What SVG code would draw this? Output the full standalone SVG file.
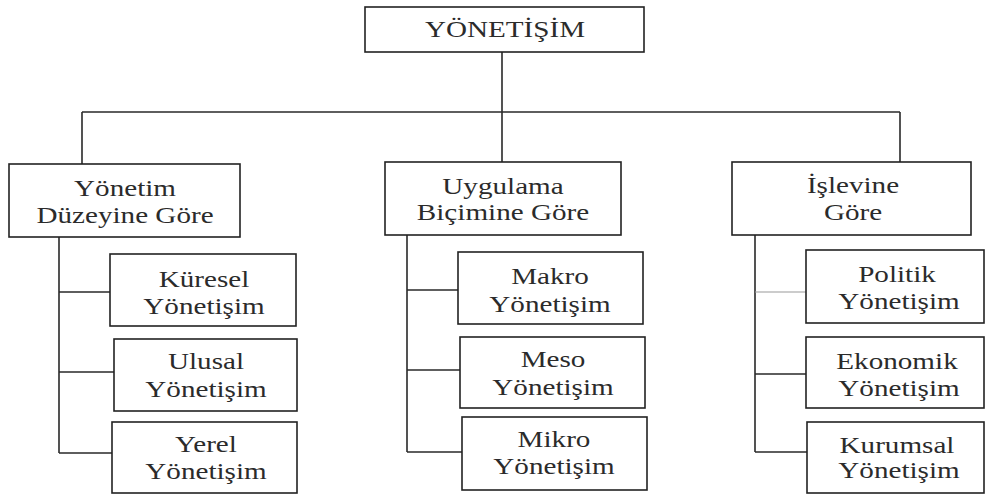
<svg xmlns="http://www.w3.org/2000/svg" width="986" height="495" viewBox="0 0 986 495">
<style>
.box{fill:#fff;stroke:#222;stroke-width:1.6}
.ln{fill:none;stroke:#2a2a2a;stroke-width:1.6}
.lt{fill:none;stroke:#9a9a9a;stroke-width:1.2}
text{font-family:"Liberation Serif","Times New Roman",serif;font-size:23.5px;fill:#2b2b2b;text-anchor:middle}
</style>
<rect width="986" height="495" fill="#fff"/>
<g id="connectors">
<path class="ln" d="M502,52 V162 M82,112 H900 M82,112 V164 M900,112 V162"/>
<path class="ln" d="M59,237 V453 M59,292 H110 M59,372 H114 M59,453 H112"/>
<path class="ln" d="M407,235 V452 M407,290 H458 M407,370 H460 M407,452 H462"/>
<path class="ln" d="M755,235 V452 M755,374 H806 M755,452 H807"/>
<path class="lt" d="M755,292 H806"/>
</g>
<g id="root"><rect class="box" x="365" y="7" width="279" height="45"/><text transform="translate(505,37) scale(1.24,1)">YÖNETİŞİM</text></g>
<g id="yonetim"><rect class="box" x="9" y="164" width="231" height="73"/><text transform="translate(125,196) scale(1.24,1)">Yönetim</text><text transform="translate(125,223) scale(1.24,1)">Düzeyine Göre</text></g>
<g id="uygulama"><rect class="box" x="385" y="162" width="236" height="73"/><text transform="translate(503,194) scale(1.24,1)">Uygulama</text><text transform="translate(503,220) scale(1.24,1)">Biçimine Göre</text></g>
<g id="islevine"><rect class="box" x="732" y="162" width="239" height="73"/><text transform="translate(853,193) scale(1.24,1)">İşlevine</text><text transform="translate(853,220) scale(1.24,1)">Göre</text></g>
<g id="kuresel"><rect class="box" x="110" y="254" width="186" height="72"/><text transform="translate(204,287) scale(1.24,1)">Küresel</text><text transform="translate(204,314) scale(1.24,1)">Yönetişim</text></g>
<g id="ulusal"><rect class="box" x="114" y="339" width="183" height="72"/><text transform="translate(206,369) scale(1.24,1)">Ulusal</text><text transform="translate(206,397) scale(1.24,1)">Yönetişim</text></g>
<g id="yerel"><rect class="box" x="112" y="422" width="185" height="71"/><text transform="translate(206,452) scale(1.24,1)">Yerel</text><text transform="translate(206,479) scale(1.24,1)">Yönetişim</text></g>
<g id="makro"><rect class="box" x="458" y="252" width="185" height="72"/><text transform="translate(550,284) scale(1.24,1)">Makro</text><text transform="translate(550,312) scale(1.24,1)">Yönetişim</text></g>
<g id="meso"><rect class="box" x="460" y="337" width="185" height="71"/><text transform="translate(553,367) scale(1.24,1)">Meso</text><text transform="translate(553,395) scale(1.24,1)">Yönetişim</text></g>
<g id="mikro"><rect class="box" x="462" y="417" width="185" height="73"/><text transform="translate(554,447) scale(1.24,1)">Mikro</text><text transform="translate(554,474) scale(1.24,1)">Yönetişim</text></g>
<g id="politik"><rect class="box" x="806" y="250" width="178" height="73"/><text transform="translate(897,282) scale(1.24,1)">Politik</text><text transform="translate(899,309) scale(1.24,1)">Yönetişim</text></g>
<g id="ekonomik"><rect class="box" x="806" y="337" width="178" height="71"/><text transform="translate(897,369) scale(1.24,1)">Ekonomik</text><text transform="translate(899,396) scale(1.24,1)">Yönetişim</text></g>
<g id="kurumsal"><rect class="box" x="807" y="422" width="177" height="71"/><text transform="translate(897,453) scale(1.24,1)">Kurumsal</text><text transform="translate(899,478) scale(1.24,1)">Yönetişim</text></g>
</svg>
